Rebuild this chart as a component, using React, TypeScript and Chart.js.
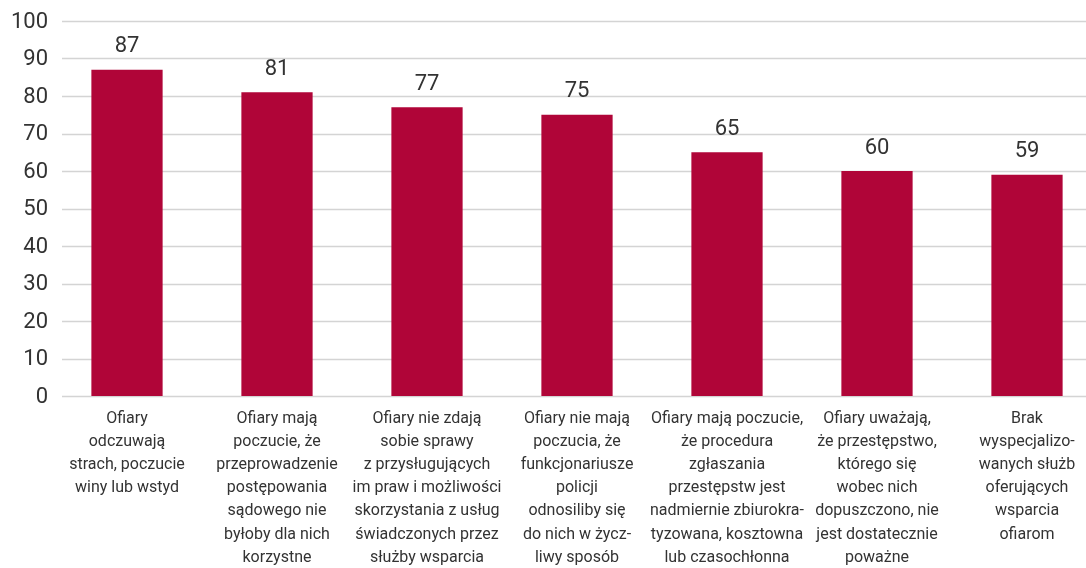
import React, { useEffect, useRef } from "react";
import { Chart, registerables } from "chart.js";

Chart.register(...registerables);

const categories: string[][] = [
  ["Ofiary", "odczuwają", "strach, poczucie", "winy lub wstyd"],
  ["Ofiary mają", "poczucie, że", "przeprowadzenie", "postępowania", "sądowego nie", "byłoby dla nich", "korzystne"],
  ["Ofiary nie zdają", "sobie sprawy", "z przysługujących", "im praw i możliwości", "skorzystania z usług", "świadczonych przez", "służby wsparcia"],
  ["Ofiary nie mają", "poczucia, że", "funkcjonariusze", "policji", "odnosiliby się", "do nich w życz-", "liwy sposób"],
  ["Ofiary mają poczucie,", "że procedura", "zgłaszania", "przestępstw jest", "nadmiernie zbiurokra-", "tyzowana, kosztowna", "lub czasochłonna"],
  ["Ofiary uważają,", "że przestępstwo,", "którego się", "wobec nich", "dopuszczono, nie", "jest dostatecznie", "poważne"],
  ["Brak", "wyspecjalizo-", "wanych służb", "oferujących", "wsparcia", "ofiarom"],
];

const values: number[] = [87, 81, 77, 75, 65, 60, 59];

const yTicks: number[] = [0, 10, 20, 30, 40, 50, 60, 70, 80, 90, 100];

const FONT = "Roboto, 'Open Sans', sans-serif";

export default function App() {
  const ref = useRef<HTMLCanvasElement | null>(null);

  useEffect(() => {
    document.body.style.margin = "0";
    if (!ref.current) return;

    const gridPlugin = {
      id: "customGrid",
      beforeDatasetsDraw(chart: any) {
        const ctx = chart.ctx;
        const y = chart.scales.y;
        ctx.save();
        ctx.strokeStyle = "#d4d4d4";
        ctx.lineWidth = 1.5;
        yTicks.forEach((t) => {
          const py = Math.round(y.getPixelForValue(t)) + 0.5;
          ctx.beginPath();
          ctx.moveTo(62, py);
          ctx.lineTo(chart.chartArea.right, py);
          ctx.stroke();
        });
        ctx.fillStyle = "#333333";
        ctx.font = `22px ${FONT}`;
        ctx.textAlign = "right";
        ctx.textBaseline = "middle";
        yTicks.forEach((t) => {
          ctx.fillText(String(t), 48, y.getPixelForValue(t) + 1);
        });
        ctx.restore();
      },
    };

    const labelPlugin = {
      id: "valueLabels",
      afterDatasetsDraw(chart: any) {
        const ctx = chart.ctx;
        const meta = chart.getDatasetMeta(0);
        ctx.save();
        ctx.fillStyle = "#333333";
        ctx.font = `22px ${FONT}`;
        ctx.textAlign = "center";
        ctx.textBaseline = "bottom";
        meta.data.forEach((el: any, i: number) => {
          ctx.fillText(String(values[i]), el.x, el.y - 12);
        });
        ctx.restore();
      },
    };

    const chart = new Chart(ref.current, {
      type: "bar",
      data: {
        labels: categories,
        datasets: [
          {
            data: values,
            backgroundColor: "#B00538",
            barPercentage: 0.95,
            categoryPercentage: 0.5,
          },
        ],
      },
      options: {
        responsive: false,
        animation: false,
        layout: { padding: { top: 21, right: 0, left: 0, bottom: 0 } },
        plugins: {
          legend: { display: false },
          tooltip: { enabled: false },
        },
        scales: {
          x: {
            grid: { display: false, drawTicks: false },
            border: { display: false },
            ticks: {
              autoSkip: false,
              maxRotation: 0,
              minRotation: 0,
              color: "#333333",
              padding: 11,
              font: { family: FONT, size: 16, lineHeight: 1.45 },
            },
            afterFit(scale: any) {
              scale.height = 172;
            },
          },
          y: {
            min: 0,
            max: 100,
            grid: { display: false, drawTicks: false },
            border: { display: false },
            ticks: {
              display: false,
              stepSize: 10,
            },
            afterFit(scale: any) {
              scale.width = 52;
            },
          },
        },
      },
      plugins: [gridPlugin, labelPlugin],
    });

    return () => chart.destroy();
  }, []);

  return (
    <div style={{ width: 1086, height: 568, overflow: "hidden", background: "#fff" }}>
      <canvas ref={ref} width={1102} height={568} style={{ display: "block" }} />
    </div>
  );
}
